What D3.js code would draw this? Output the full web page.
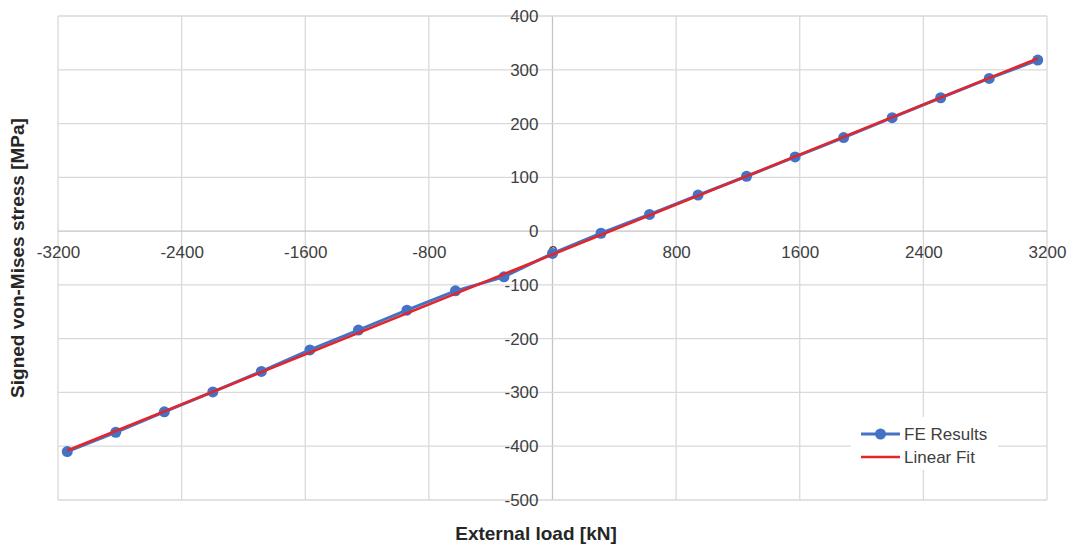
<!DOCTYPE html>
<html>
<head>
<meta charset="utf-8">
<script src="https://cdn.jsdelivr.net/npm/d3@7"></script>
<style>
  body { margin: 0; background: #fff; }
  svg { display: block; font-family: "Liberation Sans", Arial, sans-serif; }
</style>
</head>
<body>
<svg id="chart"></svg>
<script>
// External load [kN] at each FE run
const loads = [-3140, -2826, -2512, -2198, -1884, -1570, -1256, -942, -628, -314, 0,
  314, 628, 942, 1256, 1570, 1884, 2198, 2512, 2826, 3140];
// Signed von-Mises stress [MPa], FE results
const feStress = [-410, -374, -336, -299, -261, -221, -184, -147, -111, -85, -41.5,
  -4, 31, 67, 102, 138, 174, 211, 248, 284, 318];
// Linear fit end points
const fitLoads = [-3140, 3140];
const fitStress = [-408, 321];

const xTicks = [-3200, -2400, -1600, -800, 0, 800, 1600, 2400, 3200];
const yTicks = [-500, -400, -300, -200, -100, 0, 100, 200, 300, 400];

const W = 1068, H = 544;
const margin = { top: 16, right: 21, bottom: 44, left: 58 };
const width = W - margin.left - margin.right;
const height = H - margin.top - margin.bottom;

const svg = d3.select('#chart').attr('width', W).attr('height', H);
const g = svg.append('g').attr('transform', `translate(${margin.left},${margin.top})`);

const x = d3.scaleLinear().domain([-3200, 3200]).range([0, width]);
const y = d3.scaleLinear().domain([-500, 400]).range([height, 0]);

// Grid
g.selectAll('.gx').data(xTicks).enter().append('line')
  .attr('x1', d => x(d)).attr('x2', d => x(d))
  .attr('y1', 0).attr('y2', height)
  .attr('stroke', d => d === 0 ? '#c4c4c4' : '#d9d9d9')
  .attr('stroke-width', 1.3);

g.selectAll('.gy').data(yTicks).enter().append('line')
  .attr('x1', 0).attr('x2', width)
  .attr('y1', d => y(d)).attr('y2', d => y(d))
  .attr('stroke', d => d === 0 ? '#c4c4c4' : '#d9d9d9')
  .attr('stroke-width', 1.3);

// Axes (labels only, crossing at zero)
const xAxis = g.append('g')
  .attr('transform', `translate(0,${y(0)})`)
  .call(d3.axisBottom(x).tickValues(xTicks).tickSize(0).tickFormat(d3.format('d')));
xAxis.select('.domain').remove();
xAxis.selectAll('text')
  .attr('y', 21).attr('dy', '0.35em')
  .style('font-size', '17px').style('fill', '#404040');

const yAxis = g.append('g')
  .attr('transform', `translate(${x(0)},0)`)
  .call(d3.axisLeft(y).tickValues(yTicks).tickSize(0).tickPadding(14).tickFormat(d3.format('d')));
yAxis.select('.domain').remove();
yAxis.selectAll('text')
  .style('font-size', '17px').style('fill', '#404040');

// Replace hyphen with proper sign look kept as '-'
svg.selectAll('.tick text').text(function() { return this.textContent.replace('−', '-'); });

// FE results line
const feData = loads.map((l, i) => ({ x: l, y: feStress[i] }));
g.append('path')
  .datum(feData)
  .attr('fill', 'none')
  .attr('stroke', '#4472c4')
  .attr('stroke-width', 3)
  .attr('d', d3.line().x(d => x(d.x)).y(d => y(d.y)));

g.selectAll('.fe-dot').data(feData).enter().append('circle')
  .attr('cx', d => x(d.x))
  .attr('cy', d => y(d.y))
  .attr('r', 5.5)
  .attr('fill', '#4472c4');

// Linear fit
const fitData = fitLoads.map((l, i) => ({ x: l, y: fitStress[i] }));
g.append('path')
  .datum(fitData)
  .attr('fill', 'none')
  .attr('stroke', '#e3262b')
  .attr('stroke-width', 2.6)
  .attr('d', d3.line().x(d => x(d.x)).y(d => y(d.y)));

// Axis titles
svg.append('text')
  .attr('x', 536).attr('y', 540)
  .style('text-anchor', 'middle')
  .style('font-size', '19px').style('font-weight', 'bold').style('fill', '#262626')
  .text('External load [kN]');

svg.append('text')
  .attr('transform', `translate(24,${margin.top + height / 2}) rotate(-90)`)
  .style('text-anchor', 'middle')
  .style('font-size', '19px').style('font-weight', 'bold').style('fill', '#262626')
  .text('Signed von-Mises stress [MPa]');

// Legend
const legend = svg.append('g').attr('transform', 'translate(851,417)');
legend.append('rect')
  .attr('width', 147).attr('height', 53)
  .attr('fill', '#fff');

legend.append('line')
  .attr('x1', 10).attr('x2', 49).attr('y1', 17).attr('y2', 17)
  .attr('stroke', '#4472c4').attr('stroke-width', 3);
legend.append('circle')
  .attr('cx', 29.5).attr('cy', 17).attr('r', 5.5).attr('fill', '#4472c4');
legend.append('text')
  .attr('x', 53).attr('y', 17).attr('dy', '0.35em')
  .style('font-size', '17px').style('fill', '#404040')
  .text('FE Results');

legend.append('line')
  .attr('x1', 10).attr('x2', 49).attr('y1', 40).attr('y2', 40)
  .attr('stroke', '#e3262b').attr('stroke-width', 2.6);
legend.append('text')
  .attr('x', 53).attr('y', 40).attr('dy', '0.35em')
  .style('font-size', '17px').style('fill', '#404040')
  .text('Linear Fit');
</script>
</body>
</html>
